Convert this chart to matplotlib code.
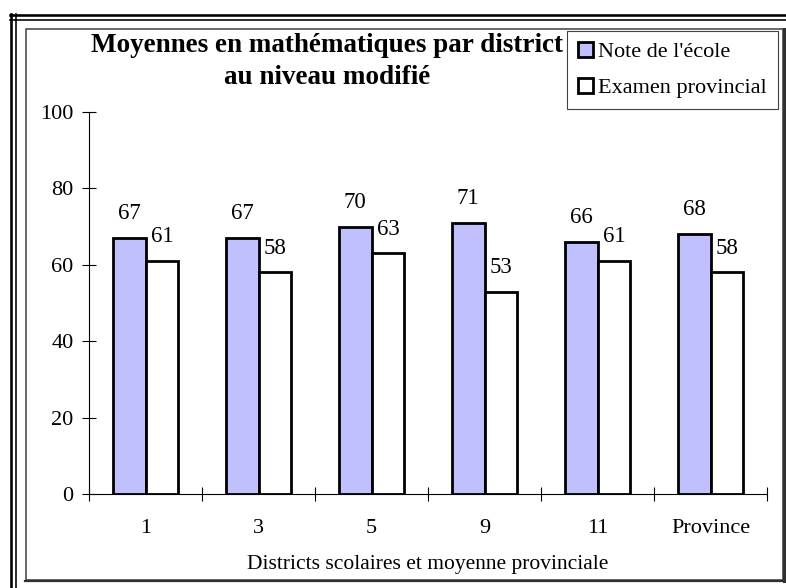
import matplotlib

matplotlib.use("Agg")
import matplotlib.pyplot as plt
from matplotlib.lines import Line2D
from matplotlib.patches import Rectangle

districts = ["1", "3", "5", "9", "11", "Province"]
note_ecole = [67, 67, 70, 71, 66, 68]
examen_prov = [61, 58, 63, 53, 61, 58]

W, H = 786, 588
plt.rcParams["font.family"] = ["Liberation Serif", "DejaVu Serif"]

fig = plt.figure(figsize=(W / 100, H / 100), dpi=100)


def fx(px):
    return px / W


def fy(py):
    return 1 - py / H


# double border (top / left) and inner frame
for y, lw in [(15.2, 2.6), (20, 1.6)]:
    fig.add_artist(Line2D([fx(10), 1], [fy(y), fy(y)], color="black", lw=lw * 0.72,
                          transform=fig.transFigure))
for x, lw in [(11.2, 2.6), (15.5, 1.6)]:
    fig.add_artist(Line2D([fx(x), fx(x)], [fy(14), 0], color="black", lw=lw * 0.72,
                          transform=fig.transFigure))
fig.add_artist(Rectangle((fx(25.5), fy(580)), fx(783) - fx(25.5), fy(29) - fy(580),
                         fill=False, edgecolor="#404040", lw=1.1,
                         transform=fig.transFigure))
fig.add_artist(Line2D([fx(783.5), fx(783.5)], [fy(29), fy(581)], color="#303030", lw=2.2,
                      transform=fig.transFigure))
fig.add_artist(Line2D([fx(25), fx(784)], [fy(580.5), fy(580.5)], color="#303030", lw=1.6,
                      transform=fig.transFigure))

ax = fig.add_axes([fx(89), fy(494), fx(767) - fx(89), fy(112) - fy(494)])

x = range(len(districts))
w = 0.29
b1 = ax.bar([i - w / 2 for i in x], note_ecole, w, color="#C0C0FF", edgecolor="black",
            lw=2, label="Note de l'école")
b2 = ax.bar([i + w / 2 for i in x], examen_prov, w, color="white", edgecolor="black",
            lw=2, label="Examen provincial")

for bars, vals in [(b1, note_ecole), (b2, examen_prov)]:
    for r, v in zip(bars, vals):
        ax.annotate(str(v), (r.get_x() + r.get_width() / 2, v), xytext=(0, 17.5),
                    textcoords="offset points", ha="center", va="center", fontsize=16.5)

ax.set_xlim(-0.5, len(districts) - 0.5)
ax.set_ylim(0, 100)
ax.set_yticks(range(0, 101, 20))
ax.set_xticks(list(x))
ax.set_xticklabels(districts)
ax.set_xticks([i - 0.5 for i in range(len(districts) + 1)], minor=True)
ax.tick_params(axis="x", which="major", length=0, pad=18, labelsize=16)
ax.tick_params(axis="x", which="minor", direction="inout", length=10, width=0.8)
ax.tick_params(axis="y", direction="inout", length=10, width=0.8, pad=6, labelsize=16)
for s in ["top", "right"]:
    ax.spines[s].set_visible(False)
ax.spines["left"].set_linewidth(0.8)
ax.spines["bottom"].set_linewidth(0.8)
ax.set_xlabel("Districts scolaires et moyenne provinciale", fontsize=15.5, labelpad=12)

fig.text(fx(327), fy(61.5), "Moyennes en mathématiques par district\nau niveau modifié",
         ha="center", va="center", fontsize=19.5, fontweight="bold", linespacing=1.38)

leg = fig.legend(handles=[b1, b2], loc="upper left", bbox_to_anchor=(fx(567), fy(31)),
                 fontsize=16, frameon=True, fancybox=False, shadow=False,
                 handlelength=0.65, handleheight=0.65, handletextpad=0.25,
                 borderpad=0.5, labelspacing=0.7, borderaxespad=0)
leg.get_frame().set_edgecolor("#404040")
leg.get_frame().set_linewidth(0.8)
leg.get_frame().set_alpha(1)
for p in leg.get_patches():
    p.set_linewidth(2)

fig.savefig("out.png", dpi=100)
